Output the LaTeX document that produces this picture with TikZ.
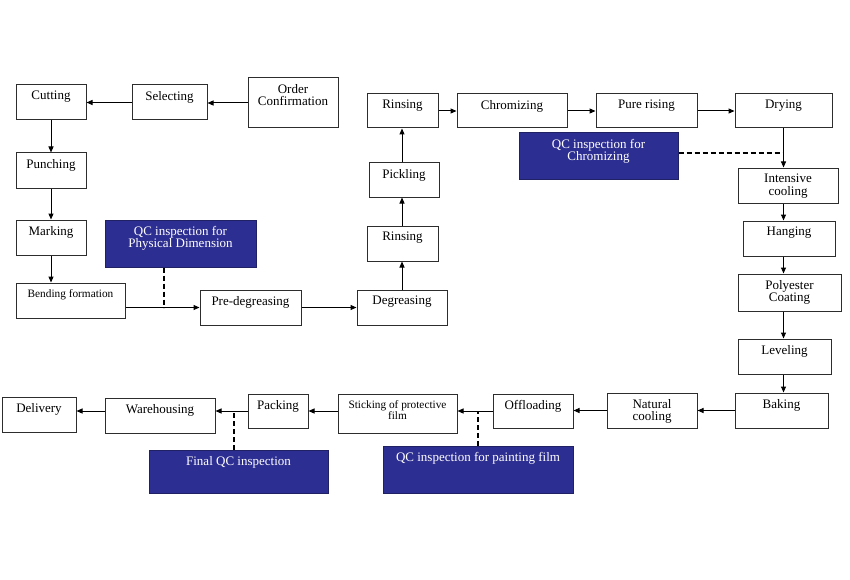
\documentclass[tikz,border=0pt]{standalone}
\usepackage{fontspec}
\setmainfont{Liberation Serif}
\usetikzlibrary{arrows.meta,fit}
\definecolor{qcblue}{RGB}{45,46,145}
\definecolor{edgec}{RGB}{45,45,45}
\begin{document}
\begin{tikzpicture}[x=1pt,y=-1pt,
  pbox/.style={draw=edgec, line width=1pt, inner sep=0pt, fill=white},
  qbox/.style={draw=qcblue!70!black, line width=1pt, inner sep=0pt, fill=qcblue},
  lbl/.style={anchor=north, inner sep=0pt, yshift=-6.5pt, align=center, font=\fontsize{13}{12.5}\selectfont},
  slbl/.style={lbl, font=\fontsize{11.3}{11.5}\selectfont},
  qlbl/.style={lbl, text=white},
  arr/.style={draw=black, line width=1pt, -{Triangle[length=6pt,width=5pt]}},
  dsh/.style={draw=black, line width=1.2pt, dash pattern=on 5pt off 3pt}
]
\path[use as bounding box, fill=white] (0,0) rectangle (850,580);

% process boxes
\node[pbox, fit={(248,78)(338,128)}, label={[lbl]north:Order\\Confirmation}] (ordc) {};
\node[pbox, fit={(132,85)(207,120)}, label={[lbl]north:Selecting}] (sel) {};
\node[pbox, fit={(16,85)(86,120)}, label={[lbl]north:Cutting}] (cut) {};
\node[pbox, fit={(16,153)(86,188)}, label={[lbl]north:Punching}] (punch) {};
\node[pbox, fit={(16,220)(86,255)}, label={[lbl]north:Marking}] (mark) {};
\node[pbox, fit={(16,283)(125,318)}, label={[slbl]north:Bending formation}] (bend) {};
\node[pbox, fit={(200,290)(301,325)}, label={[lbl]north:Pre-degreasing}] (pre) {};
\node[pbox, fit={(357,290)(447,325)}, label={[lbl]north:Degreasing}] (deg) {};
\node[pbox, fit={(367,226)(438,261)}, label={[lbl]north:Rinsing}] (rin1) {};
\node[pbox, fit={(369,163)(439,197)}, label={[lbl]north:Pickling}] (pick) {};
\node[pbox, fit={(367,94)(438,128)}, label={[lbl]north:Rinsing}] (rin2) {};
\node[pbox, fit={(457,94)(567,128)}, label={[lbl]north:Chromizing}] (chr) {};
\node[pbox, fit={(596,94)(697,128)}, label={[lbl]north:Pure rising}] (pure) {};
\node[pbox, fit={(735,94)(832,128)}, label={[lbl]north:Drying}] (dry) {};
\node[pbox, fit={(738,168)(838,203)}, label={[lbl]north:Intensive\\cooling}] (ic) {};
\node[pbox, fit={(743,221)(835,256)}, label={[lbl]north:Hanging}] (hang) {};
\node[pbox, fit={(738,274)(841,311)}, label={[lbl]north:Polyester\\Coating}] (poly) {};
\node[pbox, fit={(738,339)(831,374)}, label={[lbl]north:Leveling}] (lev) {};
\node[pbox, fit={(735,393)(828,428)}, label={[lbl]north:Baking}] (bak) {};
\node[pbox, fit={(607,393)(697,428)}, label={[lbl]north:Natural\\cooling}] (nc) {};
\node[pbox, fit={(493,394)(573,428)}, label={[lbl]north:Offloading}] (off) {};
\node[pbox, fit={(338,394)(457,433)}, label={[slbl]north:Sticking of protective\\film}] (stk) {};
\node[pbox, fit={(248,394)(308,428)}, label={[lbl]north:Packing}] (pack) {};
\node[pbox, fit={(105,398)(215,433)}, label={[lbl]north:Warehousing}] (wh) {};
\node[pbox, fit={(2,397)(76,432)}, label={[lbl]north:Delivery}] (del) {};

% QC boxes
\node[qbox, fit={(105,220)(256,267)}, label={[qlbl]north:QC inspection for\\Physical Dimension}] (qcp) {};
\node[qbox, fit={(519,133)(678,179)}, label={[qlbl]north:QC inspection for\\Chromizing}] (qcc) {};
\node[qbox, fit={(149,450)(328,493)}, label={[qlbl]north:Final QC inspection}] (qcf) {};
\node[qbox, fit={(383,446)(573,493)}, label={[qlbl]north:QC inspection for painting film}] (qcpf) {};

% connectors
\draw[arr] (ordc.west) -- (sel.east |- ordc.west);
\draw[arr] (sel.west) -- (cut.east |- sel.west);
\draw[arr] (cut.south) -- (punch.north);
\draw[arr] (punch.south) -- (mark.north);
\draw[arr] (mark.south) -- (bend.north -| mark.south);
\draw[arr] (bend.east |- pre.west) -- (pre.west);
\draw[arr] (pre.east) -- (deg.west |- pre.east);
\draw[arr] (deg.north) -- (rin1.south -| deg.north);
\draw[arr] (rin1.north -| deg.north) -- (pick.south -| deg.north);
\draw[arr] (pick.north -| deg.north) -- (rin2.south -| deg.north);
\draw[arr] (rin2.east) -- (chr.west |- rin2.east);
\draw[arr] (chr.east) -- (pure.west |- chr.east);
\draw[arr] (pure.east) -- (dry.west |- pure.east);
\draw[arr] (dry.south) -- (ic.north -| dry.south);
\draw[arr] (ic.south -| dry.south) -- (hang.north -| dry.south);
\draw[arr] (hang.south -| dry.south) -- (poly.north -| dry.south);
\draw[arr] (poly.south -| dry.south) -- (lev.north -| dry.south);
\draw[arr] (lev.south -| dry.south) -- (bak.north -| dry.south);
\draw[arr] (bak.west) -- (nc.east |- bak.west);
\draw[arr] (nc.west) -- (off.east |- nc.west);
\draw[arr] (off.west) -- (stk.east |- off.west);
\draw[arr] (stk.west |- off.west) -- (pack.east |- off.west);
\draw[arr] (pack.west) -- (wh.east |- pack.west);
\draw[arr] (wh.west |- pack.west) -- (del.east |- pack.west);

% dashed QC links
\coordinate (d1) at (164,307.5);
\coordinate (d2) at (783.5,153);
\coordinate (d3) at (478,411);
\coordinate (d4) at (234,411);
\draw[dsh] (qcp.south -| d1) -- (d1);
\draw[dsh] (qcc.east |- d2) -- (d2);
\draw[dsh] (qcpf.north -| d3) -- (d3);
\draw[dsh] (qcf.north -| d4) -- (d4);
\end{tikzpicture}
\end{document}
